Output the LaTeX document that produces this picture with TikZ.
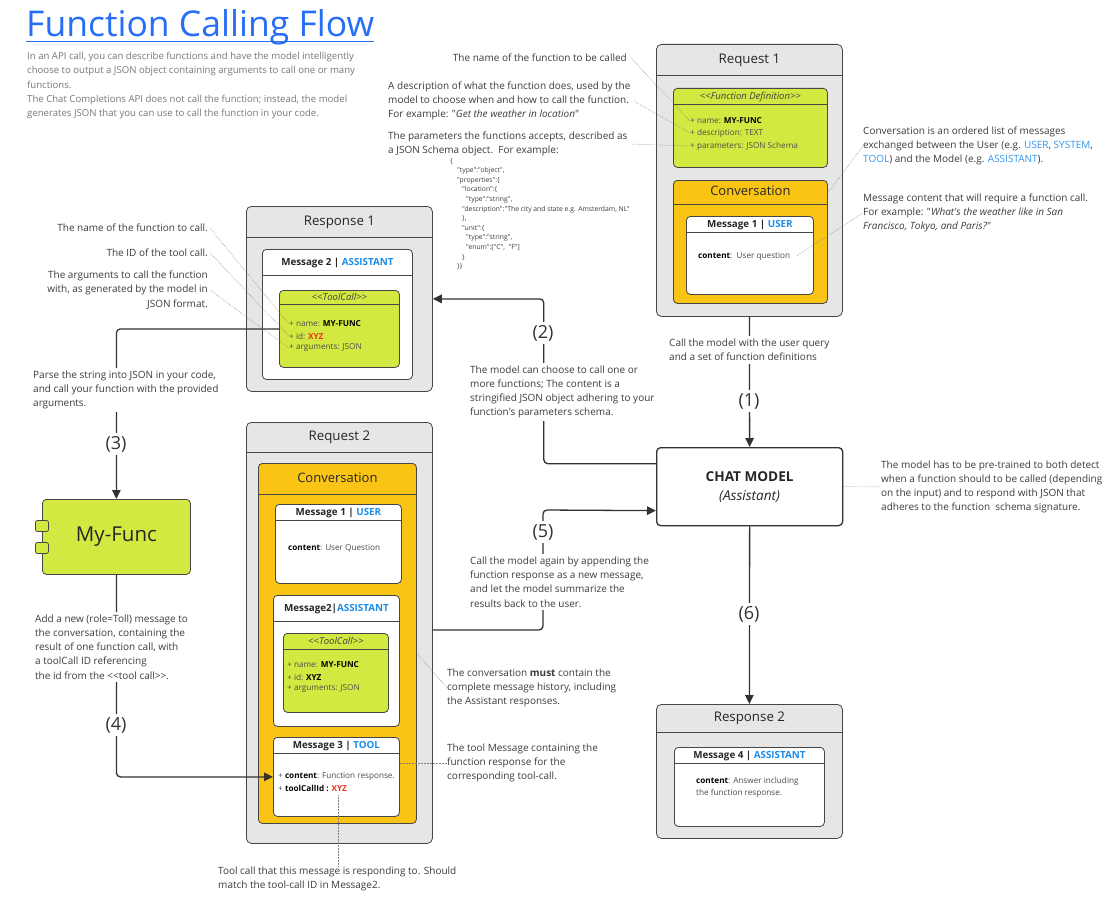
\documentclass[tikz,border=0pt]{standalone}
\usepackage{fontspec}
\setmainfont{Open Sans}[Ligatures=TeXOff]
\usetikzlibrary{arrows.meta}

\definecolor{limefill}{RGB}{212,232,66}
\definecolor{amberfill}{RGB}{249,196,19}
\definecolor{panelfill}{RGB}{230,230,230}
\definecolor{boxline}{RGB}{70,70,70}
\definecolor{flowc}{RGB}{50,50,50}
\definecolor{rolec}{RGB}{28,140,232}
\definecolor{noteblue}{RGB}{50,150,240}
\definecolor{idred}{RGB}{235,50,30}
\definecolor{titleblue}{RGB}{38,110,245}
\definecolor{introgray}{RGB}{120,120,120}
\definecolor{notegray}{RGB}{60,60,60}

\tikzset{
  boxedge/.style={draw=boxline, line width=0.8pt},
  panel/.style={boxedge, fill=panelfill, rounded corners=5pt, anchor=north west, inner sep=0pt},
  panel title/.style={font=\fontsize{13.3}{16}\selectfont, text=black!85, anchor=mid},
  conv/.style={boxedge, fill=amberfill, rounded corners=4pt, anchor=north west, inner sep=0pt},
  conv title/.style={font=\fontsize{13}{16}\selectfont, text=black!85, anchor=mid},
  msg/.style={boxedge, fill=white, rounded corners=4pt, anchor=north west, inner sep=0pt},
  msg title/.style={font=\fontsize{9.8}{12}\selectfont\bfseries, text=black!85, anchor=mid},
  defbox/.style={boxedge, fill=limefill, rounded corners=4pt, anchor=north west, inner sep=0pt},
  defbox title/.style={font=\fontsize{9.5}{11}\selectfont\itshape, text=black!75, anchor=mid},
  item/.style={font=\fontsize{8.2}{12}\selectfont, text=black!70, anchor=west, inner sep=0pt, align=left},
  note/.style={font=\fontsize{10}{14.2}\selectfont, text=notegray, align=left, inner sep=0pt},
  json/.style={font=\fontsize{6.8}{9.6}\selectfont, text=notegray, align=left, inner sep=0pt},
  gap/.style={fill=white, inner sep=3pt},
  flow/.style={draw=flowc, line width=1.3pt, rounded corners=4pt},
  steplabel/.style={font=\fontsize{18}{20}\selectfont, text=flowc, fill=white, inner sep=3pt},
  pointer/.style={draw=gray, line width=0.5pt, densely dotted},
}

\newcommand{\titledbox}[8]{%
  \node[#2, minimum width=#5pt, minimum height=#6pt] (#1) at (#3,#4) {};
  \draw[boxedge] ([yshift=-#7pt]#1.north west) -- ([yshift=-#7pt]#1.north east);
  \node[#2 title] (#1-t) at ([yshift=-#7pt/2-1pt]#1.north) {#8};
}

\begin{document}
\begin{tikzpicture}[x=1pt, y=-1pt, >={Triangle[length=9pt,width=8.5pt]}]
  \fill[white] (0,0) rectangle (1112,899);
  \useasboundingbox (0,0) rectangle (1112,899);

  \node[font=\fontsize{35.5}{40}\selectfont, text=titleblue, anchor=base west, inner sep=0pt] (title) at (26,37) {Function Calling Flow};
  \draw[titleblue, line width=1.3pt] ([yshift=-4.5pt]title.base west) -- ([yshift=-4.5pt]title.base east);
  \node[note, font=\fontsize{9.6}{14.2}\selectfont, text=introgray, anchor=west] (intro) at (27,85.5) {In an API call, you can describe functions and have the model intelligently\\choose to output a JSON object containing arguments to call one or many\\functions.\\The Chat Completions API does not call the function; instead, the model\\generates JSON that you can use to call the function in your code.};

  \titledbox{req1}{panel}{656}{44}{186}{272}{31}{Request 1}
  \titledbox{fdef}{defbox}{673}{88}{154}{79}{16}{<{}<Function Definition>{}>}
  \node[item] (fd-name) at (690,121) {+ name: \textbf{\color{black}MY-FUNC}};
  \node[item] (fd-desc) at (690,133) {+ description: TEXT};
  \node[item] (fd-params) at (690,146) {+ parameters: JSON Schema};
  \titledbox{conv1}{conv}{673}{180}{154}{123}{24}{Conversation}
  \titledbox{msg1a}{msg}{686}{216}{127}{78}{16}{Message 1 | \textcolor{rolec}{USER}}
  \node[item] (m1a-content) at (698,256) {\textbf{\color{black}content}:\ \ User question};

  \titledbox{resp1}{panel}{246}{206}{186}{185}{31}{Response 1}
  \titledbox{msg2a}{msg}{262}{249}{150}{130}{26}{Message 2 | \textcolor{rolec}{ASSISTANT}}
  \titledbox{tc1}{defbox}{279}{290}{120}{77}{14}{<{}<ToolCall>{}>}
  \node[item] (tc1-name) at (289,324) {+ name: \textbf{\color{black}MY-FUNC}};
  \node[item] (tc1-id) at (289,336) {+ id: \textbf{\color{idred}XYZ}};
  \node[item] (tc1-args) at (289,348) {+ arguments: JSON};

  \titledbox{req2}{panel}{246}{422}{186}{421}{30}{Request 2}
  \titledbox{conv2}{conv}{258}{463}{158}{360}{31}{Conversation}
  \titledbox{msg1b}{msg}{275}{504}{126}{79}{16}{Message 1 | \textcolor{rolec}{USER}}
  \node[item] (m1b-content) at (288,548) {\textbf{\color{black}content}: User Question};
  \titledbox{msg2b}{msg}{273}{595}{126}{131}{26}{Message2|\textcolor{rolec}{ASSISTANT}}
  \titledbox{tc2}{defbox}{283}{633}{105}{79}{16}{<{}<ToolCall>{}>}
  \node[item] (tc2-name) at (287,665) {+ name: \textbf{\color{black}MY-FUNC}};
  \node[item] (tc2-id) at (287,677) {+ id: \textbf{\color{black}XYZ}};
  \node[item] (tc2-args) at (287,689) {+ arguments: JSON};
  \titledbox{msg3}{msg}{273}{737}{126}{79}{16}{Message 3 | \textcolor{rolec}{TOOL}}
  \node[item] (m3-content) at (278,776) {+ \textbf{\color{black}content}: Function response.};
  \node[item] (m3-id) at (278,788) {+ \textbf{\color{black}toolCallId :} \textbf{\color{idred}XYZ}};
  \coordinate (xyz) at (338,795);

  \node[draw=flowc, line width=1.3pt, fill=white, rounded corners=4pt, anchor=north west, minimum width=186pt, minimum height=78pt, align=center, font=\fontsize{13.6}{19}\selectfont, text=black!85] (chat) at (656,447) {\textbf{CHAT MODEL}\\\textit{(Assistant)}};

  \titledbox{resp2}{panel}{656}{704}{186}{134}{28}{Response 2}
  \titledbox{msg4}{msg}{674}{747}{150}{79}{16}{Message 4 | \textcolor{rolec}{ASSISTANT}}
  \node[item] (m4-content) at (696,787) {\textbf{\color{black}content}: Answer including\\the function response.};

  \node[boxedge, fill=limefill, rounded corners=4pt, anchor=north west, minimum width=148pt, minimum height=75pt, font=\fontsize{20.5}{24}\selectfont, text=black!85] (myfunc) at (42,499) {My-Func};
  \node[boxedge, fill=limefill, rounded corners=2pt, minimum width=13pt, minimum height=11pt, inner sep=0pt] (tab1) at (42,526) {};
  \node[boxedge, fill=limefill, rounded corners=2pt, minimum width=13pt, minimum height=11pt, inner sep=0pt] (tab2) at (42,548) {};

  \path (resp1.east) ++(111,0) coordinate (k2);
  \coordinate (s5) at (req2.east |- 0,630);
  \coordinate (k5) at (543,510);
  \draw[flow, ->] (req1.south) -- (chat.north);
  \draw[flow, ->] ([yshift=23pt]chat.west) -| (k2) -- (resp1.east);
  \draw[flow, ->] (tc1.west) -| (myfunc.north);
  \draw[flow, ->] (myfunc.south) |- (msg3.west);
  \draw[flow, ->] (s5) -| (k5) -- ([yshift=-24pt]chat.west);
  \draw[flow, ->] (chat.south) -- (resp2.north);

  \node[steplabel] (l1) at (749,401) {(1)};
  \node[steplabel] (l2) at (543,333) {(2)};
  \node[steplabel] (l3) at (116,444) {(3)};
  \node[steplabel] (l4) at (116,725) {(4)};
  \node[steplabel] (l5) at (543,532) {(5)};
  \node[steplabel] (l6) at (749,614) {(6)};

  \node[note, gap, anchor=west] (n-step1) at (666,350) {Call the model with the user query\\and a set of function definitions};
  \node[note, gap, anchor=west] (n-step2) at (467,392) {The model can choose to call one or\\more functions; The content is a\\stringified JSON object adhering to your\\function's parameters schema.};
  \node[note, gap, anchor=west] (n-step3) at (30,390) {Parse the string into JSON in your code,\\and call your function with the provided\\arguments.};
  \node[note, gap, anchor=west] (n-step4) at (32,647) {Add a new (role=Toll) message to\\the conversation, containing the\\result of one function call, with\\a toolCall ID referencing\\the id from the <{}<tool call>{}>.};
  \node[note, gap, anchor=west] (n-step5) at (467,582) {Call the model again by appending the\\function response as a new message,\\and let the model summarize the\\results back to the user.};

  \node[note, anchor=east, align=right] (n-fname) at (627,58) {The name of the function to be called};
  \node[note, anchor=west] (n-fdesc) at (388,101) {A description of what the function does, used by the\\model to choose when and how to call the function.\\For example: "\textit{Get the weather in location}"};
  \node[note, anchor=west] (n-fparams) at (388,144) {The parameters the functions accepts, described as\\a JSON Schema object.\ \ For example:};
  \node[json, anchor=north west] (n-json) at (450,158) {\{\\
    \hspace*{7pt}"type":"object",\\
    \hspace*{7pt}"properties":\{\\
    \hspace*{12pt}"location":\{\\
    \hspace*{16pt}"type":"string",\\
    \hspace*{12pt}"description":"The city and state e.g. Amsterdam, NL"\\
    \hspace*{12pt}\},\\
    \hspace*{12pt}"unit":\{\\
    \hspace*{16pt}"type":"string",\\
    \hspace*{16pt}"enum":["C",\ \ "F"]\\
    \hspace*{12pt}\}\\
    \hspace*{7pt}\}\}};
  \node[note, anchor=west] (n-conv) at (863,146) {Conversation is an ordered list of messages\\exchanged between the User (e.g. \textcolor{noteblue}{USER}, \textcolor{noteblue}{SYSTEM},\\\textcolor{noteblue}{TOOL}) and the Model (e.g. \textcolor{noteblue}{ASSISTANT}).};
  \node[note, anchor=west] (n-msg) at (863,213) {Message content that will require a function call.\\For example: "\textit{What's the weather like in San}\\\textit{Francisco, Tokyo, and Paris?}"};
  \node[note, anchor=east, align=right] (n-tcname) at (208,228) {The name of the function to call.};
  \node[note, anchor=east, align=right] (n-tcid) at (208,253) {The ID of the tool call.};
  \node[note, anchor=east, align=right] (n-tcargs) at (208,290) {The arguments to call the function\\with, as generated by the model in\\JSON format.};
  \node[note, anchor=west] (n-chat) at (881,487) {The model has to be pre-trained to both detect\\when a function should to be called (depending\\on the input) and to respond with JSON that\\adheres to the function\ \ schema signature.};
  \node[note, anchor=west] (n-must) at (447,688) {The conversation \textbf{must} contain the\\complete message history, including\\the Assistant responses.};
  \node[note, anchor=west] (n-toolmsg) at (447,763) {The tool Message containing the\\function response for the\\corresponding tool-call.};
  \node[note, anchor=west] (n-tcref) at (218,879) {Tool call that this message is responding to. Should\\match the tool-call ID in Message2.};

  \draw[pointer] ([xshift=4pt]n-fname.east) -- (fd-name.west);
  \draw[pointer] ([xshift=3pt]n-fdesc.east) -- (fd-desc.west);
  \draw[pointer] ([xshift=3pt]n-fparams.east) -- (fd-params.west);
  \draw[pointer] (n-conv.west) -- ([yshift=-13pt]conv1.north east);
  \draw[pointer] (n-msg.west) -- ([xshift=6pt]m1a-content.east);
  \draw[pointer] ([xshift=2pt]n-tcname.east) -- (tc1-name.west);
  \draw[pointer] ([xshift=2pt]n-tcid.east) -- (tc1-id.west);
  \draw[pointer] ([xshift=2pt]n-tcargs.east) -- (tc1-args.west);
  \draw[pointer] (conv2.east |- 0,653) -- (n-must.west);
  \draw[pointer] (msg3.east |- n-toolmsg.west) -- (n-toolmsg.west);
  \draw[pointer] (xyz) -- (xyz |- n-tcref.north);
  \draw[pointer] (chat.east) -- (n-chat.west);
\end{tikzpicture}
\end{document}
